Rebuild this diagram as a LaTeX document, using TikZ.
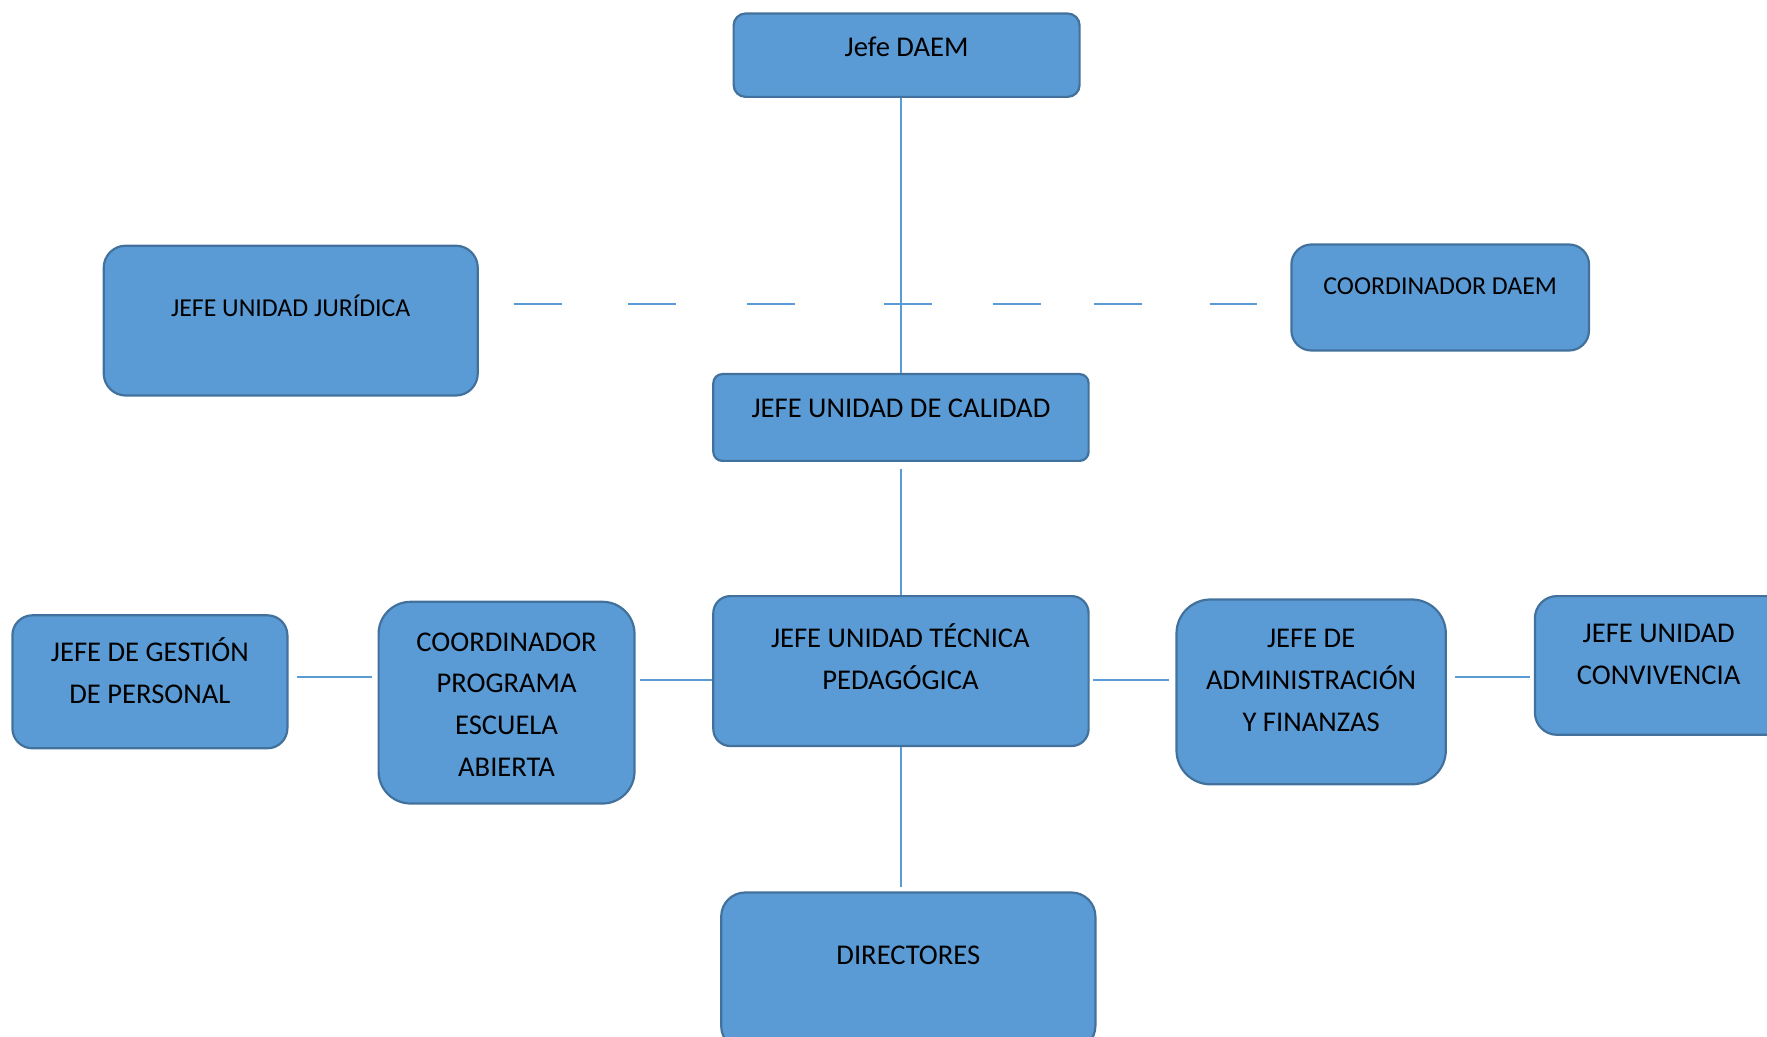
\documentclass[tikz,border=0pt]{standalone}
\usepackage{fontspec}
\setmainfont{Carlito}
\usetikzlibrary{calc}
\definecolor{boxfill}{HTML}{5B9BD5}
\definecolor{boxline}{HTML}{41719C}
\definecolor{connline}{HTML}{5B9BD5}
\begin{document}
\begin{tikzpicture}[x=0.5pt,y=-0.5pt,
  orgbox/.style={draw=boxline, fill=boxfill, line width=1.1pt, inner sep=0pt},
  conn/.style={draw=connline, line width=1pt},
  bigtext/.style={font=\fontsize{14.3}{20.9}\selectfont, align=center, anchor=base, inner sep=0pt},
  smalltext/.style={font=\fontsize{12.9}{19}\selectfont, align=center, anchor=base, inner sep=0pt}]
\useasboundingbox (0,0) rectangle (1767,1037);
\clip (0,0) rectangle (1767,1037);

% boxes
\node[orgbox, rounded corners=6pt, minimum width=173pt, minimum height=41.7pt] (daem) at (906.6,55.2) {};
\node[orgbox, rounded corners=11pt, minimum width=187pt, minimum height=74.9pt] (jur) at (290.75,320.6) {};
\node[orgbox, rounded corners=10pt, minimum width=148.8pt, minimum height=53pt] (cdaem) at (1440.2,297.5) {};
\node[orgbox, rounded corners=4.5pt, minimum width=187.65pt, minimum height=43.4pt] (cal) at (900.95,417.5) {};
\node[orgbox, rounded corners=10pt, minimum width=137.5pt, minimum height=66.5pt] (gest) at (149.9,681.8) {};
\node[orgbox, rounded corners=16pt, minimum width=127.95pt, minimum height=100.85pt] (cpea) at (506.55,702.65) {};
\node[orgbox, rounded corners=8.5pt, minimum width=187.65pt, minimum height=74.95pt] (tec) at (900.95,671.05) {};
\node[orgbox, rounded corners=17pt, minimum width=134.65pt, minimum height=92.4pt] (adm) at (1311.15,691.9) {};
\node[orgbox, rounded corners=11pt, minimum width=127.5pt, minimum height=69.35pt] (conv) at (1662.45,665.45) {};
\node[orgbox, rounded corners=12pt, minimum width=187.1pt, minimum height=78.75pt] (dir) at (908.3,971.25) {};

% texts (anchor base = baseline of the last line)
\node[bigtext] (tdaem) at (906.6,56.3) {Jefe DAEM};
\node[smalltext] (tjur) at (290.75,317) {JEFE UNIDAD JURÍDICA};
\node[smalltext] (tcdaem) at (1440.2,294.4) {COORDINADOR DAEM};
\node[bigtext] (tcal) at (900.95,418) {JEFE UNIDAD DE CALIDAD};
\node[bigtext] (tgest) at (149.9,703.2) {JEFE DE GESTIÓN\\DE PERSONAL};
\node[bigtext] (tcpea) at (506.55,776.4) {COORDINADOR\\PROGRAMA\\ESCUELA\\ABIERTA};
\node[bigtext] (ttec) at (900.4,689.7) {JEFE UNIDAD TÉCNICA\\PEDAGÓGICA};
\node[bigtext] (tadm) at (1311.15,731.3) {JEFE DE\\ADMINISTRACIÓN\\Y FINANZAS};
\node[bigtext] (tconv) at (1658.7,684) {JEFE UNIDAD\\CONVIVENCIA};
\node[bigtext] (tdir) at (908.3,964.6) {DIRECTORES};

% vertical connectors
\draw[conn] (cal.north) -- (cal.north |- daem.south);
\draw[conn, shorten <=3.5pt] (cal.south) -- (tec.north);
\draw[conn, shorten >=2.2pt] (tec.south) -- (tec.south |- dir.north);

% horizontal connectors
\draw[conn, shorten <=4pt, shorten >=2.8pt] ([yshift=2.25pt]gest.east) -- ([yshift=2.25pt]gest.east -| cpea.west);
\draw[conn, shorten <=2.2pt] ([yshift=-4.25pt]tec.west -| cpea.east) -- ([yshift=-4.25pt]tec.west);
\draw[conn, shorten <=1.7pt, shorten >=3.4pt] ([yshift=-4.25pt]tec.east) -- ([yshift=-4.25pt]tec.east -| adm.west);
\draw[conn, shorten <=3.9pt, shorten >=1.7pt] ([yshift=7.3pt]adm.east) -- ([yshift=7.3pt]adm.east -| conv.west);

% dashed connector
\draw[conn, dash pattern=on 24pt off 33.2pt on 24pt off 35.5pt on 24pt off 44.5pt on 24pt off 30.4pt on 24pt off 26.5pt on 24pt off 33.8pt on 24pt off 100pt, shorten <=17.45pt, shorten >=16.9pt] ([yshift=8.15pt]jur.east) -- ([yshift=8.15pt]jur.east -| cdaem.west);
\end{tikzpicture}
\end{document}
